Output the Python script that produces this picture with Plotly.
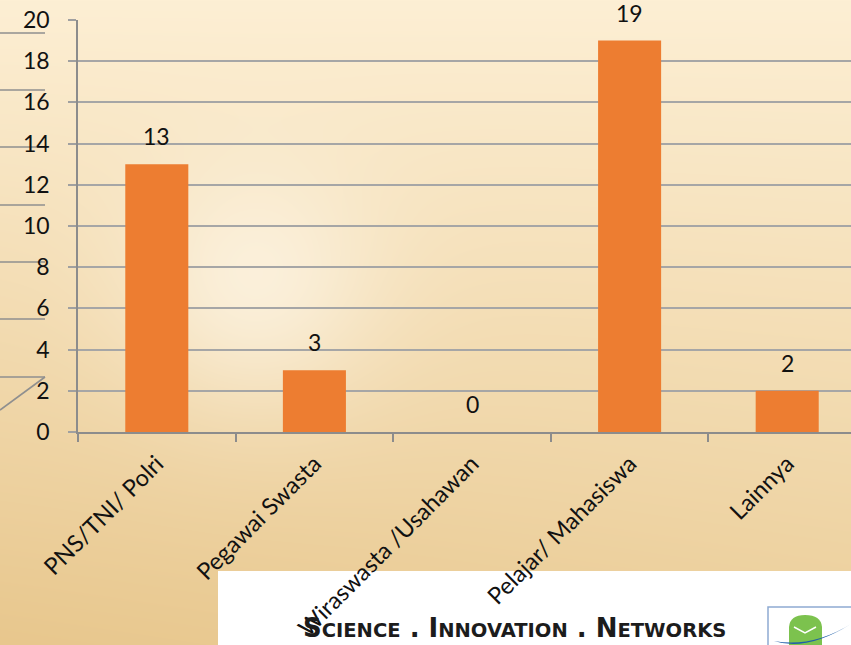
import base64
import struct
import zlib

import numpy as np
import plotly.graph_objects as go

# Respondents by occupation
categories = ["PNS/TNI/ Polri", "Pegawai Swasta", "Wiraswasta /Usahawan",
              "Pelajar/ Mahasiswa", "Lainnya"]
counts = [13, 3, 0, 19, 2]
y_ticks = [0, 2, 4, 6, 8, 10, 12, 14, 16, 18, 20]

W, H = 851, 645
ML, MT, MB = 78, 20, 213
PW, PH = W - ML, H - MT - MB
FONT = "Lato"


def png_data_uri(rgb):
    """Encode an HxWx3 uint8 array as a PNG data URI."""
    h, w, _ = rgb.shape
    raw = b"".join(b"\x00" + rgb[r].tobytes() for r in range(h))

    def chunk(tag, data):
        c = struct.pack(">I", len(data)) + tag + data
        return c + struct.pack(">I", zlib.crc32(tag + data) & 0xFFFFFFFF)

    png = (b"\x89PNG\r\n\x1a\n"
           + chunk(b"IHDR", struct.pack(">IIBBBBB", w, h, 8, 2, 0, 0, 0))
           + chunk(b"IDAT", zlib.compress(raw, 9))
           + chunk(b"IEND", b""))
    return "data:image/png;base64," + base64.b64encode(png).decode()


# Warm slide backdrop: vertical peach gradient with a soft glow
yy, xx = np.mgrid[0:H, 0:W].astype(float)
t = (yy / H)[..., None]
top = np.array([253, 239, 212], float)
bot = np.array([236, 207, 155], float)
img = top * (1 - t) + bot * t
# slightly darker towards the lower left
side = np.clip((1 - xx / W) * (yy / H), 0, 1)[..., None]
img -= side * np.array([4, 8, 14])
# glow
d = np.sqrt((xx - 255) ** 2 + (yy - 280) ** 2)
g = np.exp(-(d / 125.0) ** 2)[..., None]
img = img * (1 - 0.7 * g) + np.array([254, 247, 233]) * 0.7 * g
img = np.clip(img, 0, 255).astype(np.uint8)
bg_uri = png_data_uri(img)


def px(x):
    return (x - ML) / PW


def py(y):
    return (MT + PH - y) / PH


fig = go.Figure(
    go.Bar(
        x=categories,
        y=counts,
        marker=dict(color="#ED7D31", line=dict(width=0)),
        width=0.4,
        hoverinfo="x+y",
    )
)

# value labels above the bars
for c, v in zip(categories, counts):
    fig.add_annotation(x=c, y=v, text=str(v), showarrow=False,
                       yanchor="middle", yshift=28,
                       font=dict(family=FONT, size=23, color="#111111"))

shapes = []
# decorative rules at the left edge
for yl in [33, 90, 147, 205, 262, 319, 377]:
    shapes.append(dict(type="line", xref="paper", yref="paper",
                       x0=px(0), x1=px(45), y0=py(yl), y1=py(yl),
                       line=dict(color="#8f8f8f", width=1.6), layer="below"))
shapes.append(dict(type="line", xref="paper", yref="paper",
                   x0=px(45), x1=px(0), y0=py(377), y1=py(410),
                   line=dict(color="#8f8f8f", width=1.6), layer="below"))
# footer panel
shapes.append(dict(type="rect", xref="paper", yref="paper",
                   x0=px(218), x1=px(W + 5), y0=py(571), y1=py(H + 5),
                   fillcolor="#ffffff", line=dict(width=0), layer="below"))
# logo frame and emblem
shapes.append(dict(type="rect", xref="paper", yref="paper",
                   x0=px(768), x1=px(W + 5), y0=py(607), y1=py(H + 5),
                   fillcolor="#ffffff",
                   line=dict(color="#8eaad2", width=1.5), layer="below"))
shapes.append(dict(type="path", xref="paper", yref="paper",
                   path=(f"M {px(789)},{py(648)} L {px(789)},{py(627)} "
                         f"Q {px(790)},{py(615)} {px(805)},{py(615)} "
                         f"Q {px(821)},{py(615)} {px(822)},{py(627)} "
                         f"L {px(822)},{py(648)} Z"),
                   fillcolor="#7cc24e", line=dict(width=0), layer="below"))
shapes.append(dict(type="path", xref="paper", yref="paper",
                   path=(f"M {px(794)},{py(627)} L {px(805)},{py(633)} "
                         f"L {px(816)},{py(627)}"),
                   line=dict(color="#ffffff", width=1.5), layer="below"))
shapes.append(dict(type="path", xref="paper", yref="paper",
                   path=(f"M {px(774)},{py(641)} "
                         f"Q {px(806)},{py(652)} {px(851)},{py(624)} "
                         f"Q {px(812)},{py(648)} {px(774)},{py(641)} Z"),
                   fillcolor="#1f5fa8", line=dict(width=0), layer="below"))

fig.update_layout(
    width=W, height=H,
    margin=dict(l=ML, r=0, t=MT, b=MB, pad=0),
    paper_bgcolor="#f3dcb2",
    plot_bgcolor="rgba(0,0,0,0)",
    showlegend=False,
    bargap=0.6,
    shapes=shapes,
    images=[dict(source=bg_uri, xref="paper", yref="paper",
                 x=px(0), y=py(0), sizex=W / PW, sizey=H / PH,
                 xanchor="left", yanchor="top", sizing="stretch",
                 layer="below")],
    xaxis=dict(
        type="category",
        range=[-0.5, -0.5 + PW / 157.6],
        tickson="boundaries",
        ticks="outside", ticklen=8, tickwidth=1.5, tickcolor="#8c8c8c",
        showline=True, linecolor="#8c8c8c", linewidth=1.5,
        showgrid=False,
        tickangle=-45,
        tickfont=dict(family=FONT, size=23.5, color="#111111"),
        ticklabelstandoff=7,
        fixedrange=True,
    ),
    yaxis=dict(
        range=[0, 20],
        tickmode="array", tickvals=y_ticks,
        ticks="outside", ticklen=8, tickwidth=1.5, tickcolor="#a0a0a0",
        showline=True, linecolor="#8c8c8c", linewidth=1.5,
        showgrid=True, gridcolor="#a6a6a6", gridwidth=1.5,
        zeroline=False,
        tickfont=dict(family=FONT, size=23, color="#111111"),
        ticklabelstandoff=14,
        fixedrange=True,
    ),
)

# footer slogan in small caps
big, small = 26, 19.5


def small_caps(word):
    return f"{word[0]}<span style='font-size:{small}px'>{word[1:]}</span>"


slogan = " . ".join(small_caps(w) for w in ["SCIENCE", "INNOVATION", "NETWORKS"])
fig.add_annotation(xref="paper", yref="paper", x=px(514), y=py(645),
                   text=f"<b>{slogan}</b>", showarrow=False,
                   xanchor="center", yanchor="bottom",
                   font=dict(family="DejaVu Sans", size=big, color="#1c1c1c"))

fig.write_html("out.html")
